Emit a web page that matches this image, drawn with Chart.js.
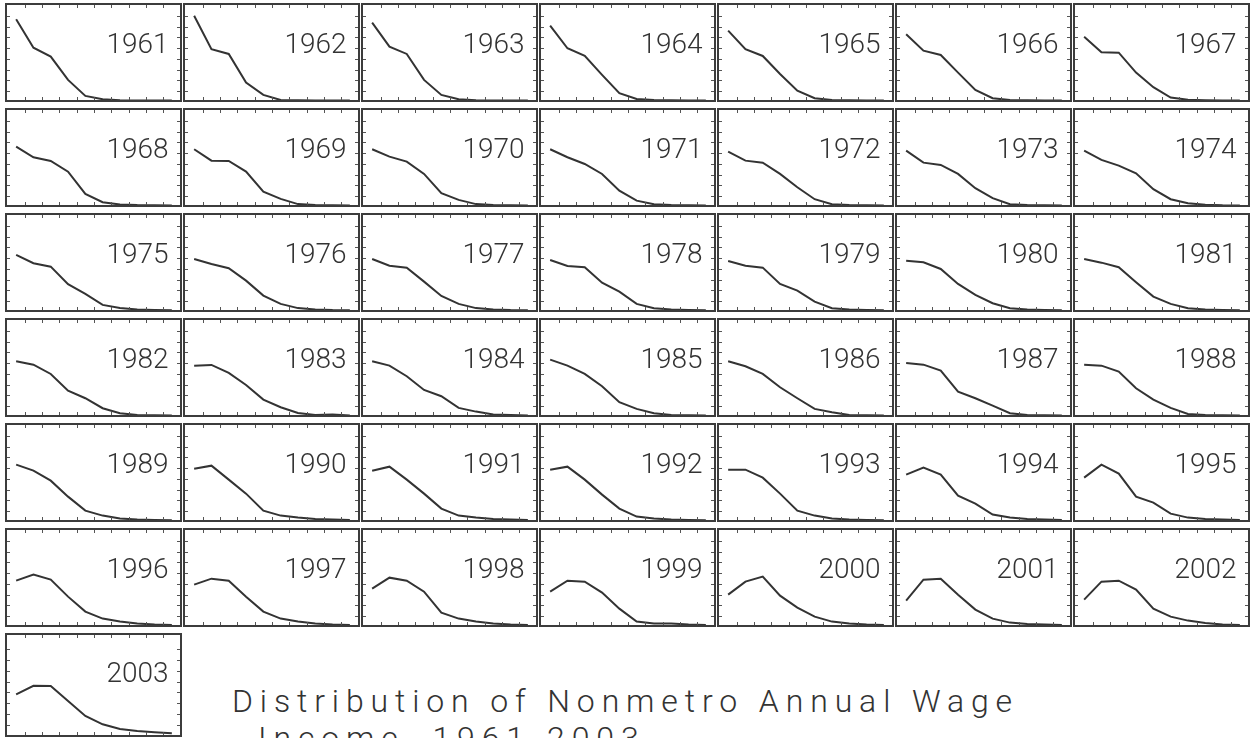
<!DOCTYPE html>
<html><head><meta charset="utf-8">
<script src="https://cdn.jsdelivr.net/npm/chart.js@4.4.1/dist/chart.umd.min.js"></script>
<style>
html,body{margin:0;padding:0;background:#fff;}
body{width:1256px;height:738px;overflow:hidden;position:relative;}
canvas.panel{position:absolute;display:block;}
.title{position:absolute;font-family:Roboto,"DejaVu Sans",sans-serif;font-size:32px;line-height:37px;color:#333;white-space:pre;font-weight:300;}
</style></head><body>
<div class="title" id="t1" style="left:232px;top:683px">Distribution of Nonmetro Annual Wage</div>
<div class="title" id="t2" style="left:258px;top:720px">Income, 1961-2003</div>
<script>
// x positions of the ten wage-income bins (axis runs 0..10)
const bins = [0.5,1.5,2.5,3.5,4.5,5.5,6.5,7.5,8.5,9.5];
const xTickVals = [1,2,3,4,5,6,7,8,9];
const years = [1961,1962,1963,1964,1965,1966,1967,1968,1969,1970,1971,1972,1973,1974,
  1975,1976,1977,1978,1979,1980,1981,1982,1983,1984,1985,1986,1987,1988,
  1989,1990,1991,1992,1993,1994,1995,1996,1997,1998,1999,2000,2001,2002,2003];

const y1961 = [81.4,53,44,20.7,4.7,1.4,0.4,0.2,0.1,0.1];
const y1962 = [85,51.4,46.7,18,5.7,0.7,0.4,0.2,0.1,0.1];
const y1963 = [78,54,46.7,20.7,5.7,1.4,0.4,0.2,0.1,0.1];
const y1964 = [75,52.4,44.7,25.7,7.4,1.7,0.5,0.3,0.2,0.1];
const y1965 = [70,51.4,44.7,26.7,10,2.4,0.6,0.3,0.2,0.1];
const y1966 = [66.4,50,45.7,28,10.7,2.4,0.6,0.3,0.2,0.1];
const y1967 = [64,48.4,48,28,13.4,3,0.8,0.4,0.2,0.1];
const y1968 = [59,48.4,44.7,34,11.7,3.4,1.2,0.5,0.3,0.2];
const y1969 = [56.4,45,44.7,34,14,6.7,1.5,0.6,0.3,0.2];
const y1970 = [56.4,49,44,31.7,12.4,5.7,1.5,0.6,0.3,0.2];
const y1971 = [56.4,48.4,41.7,31.7,15,5,1.4,0.5,0.3,0.2];
const y1972 = [54,45,43,31.7,18.4,6.4,1.4,0.5,0.3,0.2];
const y1973 = [55,43,40.7,31.7,17.4,7.4,1.4,0.5,0.3,0.2];
const y1974 = [55,45.7,40,32.4,16.4,6.4,2.4,0.8,0.3,0.2];
const y1975 = [55.7,47.4,44,26.4,16.7,5.7,2.5,1,0.5,0.3];
const y1976 = [51.7,46.7,42.4,30,15,6.7,2.5,1.2,0.5,0.3];
const y1977 = [51.7,45,43,29,14.7,6.7,2.5,1.2,0.5,0.3];
const y1978 = [50.7,44.7,43.4,28,19,6.7,2.4,1,0.5,0.3];
const y1979 = [49.7,45,43,26.7,20,9,2.4,1,0.5,0.3];
const y1980 = [50,48.4,41.7,26.7,15.7,7.4,2.4,1,0.5,0.3];
const y1981 = [51.7,48,43.4,28.4,14,6.7,2.4,1,0.5,0.3];
const y1982 = [54.4,51,41.7,25,17.4,7.4,2.4,0.7,0.3,0.2];
const y1983 = [50,50.7,42.7,30.7,16,8.4,2.7,0.7,1,0.2];
const y1984 = [54.4,50,39.4,25.7,19.4,7.7,4,1,0.7,0.2];
const y1985 = [56,50,41.7,29.4,13.4,6.7,2.4,0.5,0.3,0.2];
const y1986 = [54.4,49.4,41.7,28.4,17.4,6.7,3.4,0.5,0.3,0.2];
const y1987 = [52.7,51,45,24,17.4,10,2.4,0.7,0.3,0.2];
const y1988 = [51,50,44,27.4,16,7.7,1.7,0.7,0.3,0.2];
const y1989 = [56,50,40,24,10,5,2,1,0.5,0.3];
const y1990 = [52,55,41,27,10,5,3,1.5,1,0.5];
const y1991 = [50,54,41,27,12,5,3,1.5,1,0.5];
const y1992 = [51,54,41,26,12,4,2,1,0.5,0.3];
const y1993 = [51,51,43,27,10,5,2,1,0.5,0.3];
const y1994 = [46,53,46,25,17,6,3,1.5,1,0.5];
const y1995 = [43,56,47,24,18,7,3,1.5,1,0.5];
const y1996 = [45,51,46,29,14,7,4,2,1,0.5];
const y1997 = [41,47,45,29,14,7,4,2,1,0.5];
const y1998 = [37,48,45,34,13,7,4,2,1,0.5];
const y1999 = [34,45,44,33,17,4,2,2,1,0.5];
const y2000 = [31,44,49,30,18,9,4,2,1,0.5];
const y2001 = [25,46,47,31,16,7,3,1.5,1,0.5];
const y2002 = [26,44,45,36,17,9,5,2.5,1,0.5];
const y2003 = [39.7,48.3,48,33,18,9.7,5,3,1.7,0.7];

const seriesList = [y1961,y1962,y1963,y1964,y1965,y1966,y1967,y1968,y1969,y1970,y1971,y1972,y1973,y1974,
  y1975,y1976,y1977,y1978,y1979,y1980,y1981,y1982,y1983,y1984,y1985,y1986,y1987,y1988,
  y1989,y1990,y1991,y1992,y1993,y1994,y1995,y1996,y1997,y1998,y1999,y2000,y2001,y2002,y2003];

const Y_MIN = -1.4, Y_MAX = 95.7;

// fit title letter spacing to the reference width
(function fitTitle(){
  const c = document.createElement('canvas').getContext('2d');
  c.font = '300 32px Roboto';
  const t1 = document.getElementById('t1'), t2 = document.getElementById('t2');
  const w = c.measureText(t1.textContent).width;
  const n = t1.textContent.length - 1;
  const ls = Math.max(0, (780 - w) / n);
  t1.style.letterSpacing = ls.toFixed(2) + 'px';
  t2.style.letterSpacing = ls.toFixed(2) + 'px';
})();

const framePlugin = {
  id: 'panelFrame',
  afterDraw(chart, args, opts) {
    const ctx = chart.ctx;
    const W = chart.width, H = chart.height;
    const xs = chart.scales.x, ys = chart.scales.y;
    ctx.save();
    ctx.strokeStyle = '#555';
    ctx.lineWidth = 1;
    ctx.beginPath();
    xTickVals.forEach(v => {
      const px = Math.round(xs.getPixelForValue(v)) + 0.5;
      ctx.moveTo(px, 2); ctx.lineTo(px, 5);
      ctx.moveTo(px, H - 2); ctx.lineTo(px, H - 5);
    });
    for (let k = 1; k <= 8; k++) {
      const v = Y_MAX - k * (Y_MAX - Y_MIN) / 9;
      const py = Math.round(ys.getPixelForValue(v)) + 0.5;
      ctx.moveTo(2, py); ctx.lineTo(5, py);
      ctx.moveTo(W - 2, py); ctx.lineTo(W - 5, py);
    }
    ctx.stroke();
    ctx.strokeStyle = '#3c3c3c';
    ctx.lineWidth = 2;
    ctx.strokeRect(1, 1, W - 2, H - 2);
    ctx.fillStyle = '#333';
    ctx.font = '300 28px Roboto, "Liberation Sans", sans-serif';
    ctx.textAlign = 'right';
    ctx.textBaseline = 'alphabetic';
    ctx.fillText(String(opts.year), 163.5, opts.labelY);
    ctx.restore();
  }
};

const rowTops = [3,108,213,318,423,528,633];
const colLeft0 = 5, colStride = 178;
const PW = 177;

years.forEach((yr, i) => {
  const r = Math.floor(i / 7), c = i % 7;
  const last = (r === 6);
  const H = last ? 104 : 99;
  const cv = document.createElement('canvas');
  cv.className = 'panel';
  cv.width = PW; cv.height = H;
  cv.style.width = PW + 'px'; cv.style.height = H + 'px';
  cv.style.left = (colLeft0 + colStride * c) + 'px';
  cv.style.top = rowTops[r] + 'px';
  document.body.appendChild(cv);
  const vals = seriesList[i];
  new Chart(cv, {
    type: 'line',
    data: {
      datasets: [{
        data: bins.map((b, j) => ({x: b, y: vals[j]})),
        borderColor: '#333',
        borderWidth: 2,
        pointRadius: 0,
        tension: 0,
        fill: false
      }]
    },
    options: {
      responsive: false,
      animation: false,
      events: [],
      layout: {padding: last ? {left: 2.5, right: 1.5, top: 5.4, bottom: 1.6} : {left: 2.5, right: 1.5, top: 2, bottom: 0}},
      scales: {
        x: {type: 'linear', min: 0, max: 10, display: false},
        y: {type: 'linear', min: Y_MIN, max: Y_MAX, display: false}
      },
      plugins: {
        legend: {display: false},
        tooltip: {enabled: false},
        panelFrame: {year: yr, labelY: last ? 49 : 50}
      }
    },
    plugins: [framePlugin]
  });
});
</script>
</body></html>
